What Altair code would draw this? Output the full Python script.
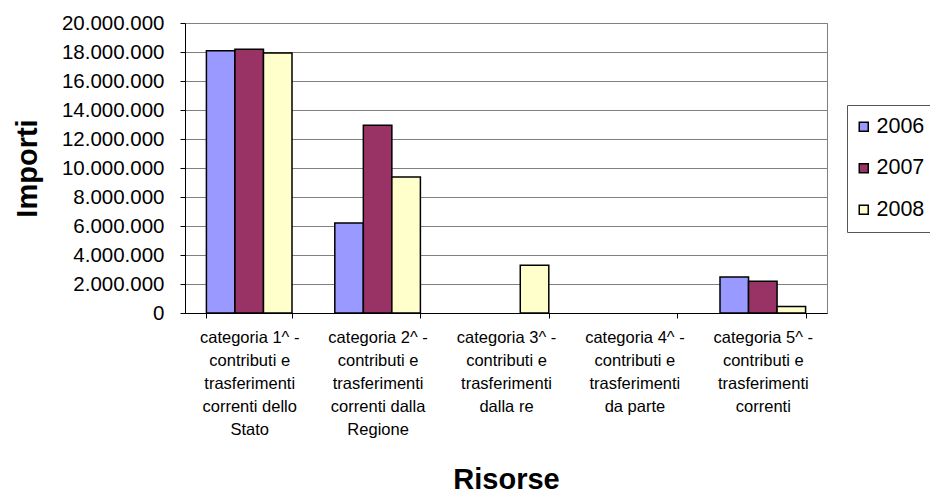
import altair as alt
import pandas as pd

categories = [
    "categoria 1^ -|contributi e|trasferimenti|correnti dello|Stato",
    "categoria 2^ -|contributi e|trasferimenti|correnti dalla|Regione",
    "categoria 3^ -|contributi e|trasferimenti|dalla re",
    "categoria 4^ -|contributi e|trasferimenti|da parte",
    "categoria 5^ -|contributi e|trasferimenti|correnti",
]
years = ["2006", "2007", "2008"]
v2006 = [18080000, 6210000, 0, 0, 2480000]
v2007 = [18190000, 12940000, 0, 0, 2190000]
v2008 = [17930000, 9380000, 3290000, 0, 440000]
colors = ["#9999FF", "#993366", "#FFFFCC"]
y_ticks = [0, 2000000, 4000000, 6000000, 8000000, 10000000,
           12000000, 14000000, 16000000, 18000000, 20000000]

rows = []
for i, c in enumerate(categories):
    for yr, vals in zip(years, [v2006, v2007, v2008]):
        rows.append({"cat": c, "anno": yr, "val": vals[i]})
df = pd.DataFrame(rows)

FONT = "Liberation Sans"

bars = alt.Chart(df).transform_filter("datum.val > 0").mark_bar(
    stroke="black", strokeWidth=1.5
).encode(
    x=alt.X(
        "cat:N",
        scale=alt.Scale(domain=categories, paddingInner=1 / 3, paddingOuter=1 / 6),
        axis=alt.Axis(
            title="Risorse",
            labelExpr="split(datum.label, '|')",
            labelAngle=0,
            labelFont=FONT,
            labelFontSize=16.5,
            labelLineHeight=23,
            labelColor="black",
            labelPadding=11,
            labelBaseline="top",
            tickBand="extent",
            tickSize=5,
            tickColor="black",
            domainColor="black",
            grid=False,
            titleFont=FONT,
            titleFontSize=29,
            titleFontWeight="bold",
            titleColor="black",
            titleBaseline="alphabetic",
            titleY=175,
        ),
    ),
    xOffset=alt.XOffset("anno:N", sort=years,
                        scale=alt.Scale(paddingInner=0, paddingOuter=0)),
    y=alt.Y(
        "val:Q",
        scale=alt.Scale(domain=[0, 20000000], nice=False),
        axis=alt.Axis(
            title="Importi",
            values=y_ticks,
            labelExpr="replace(format(datum.value, ','), regexp(',', 'g'), '.')",
            labelFont=FONT,
            labelFontSize=20.5,
            labelColor="black",
            labelPadding=16,
            tickSize=5,
            tickColor="black",
            domainColor="black",
            grid=True,
            gridColor="#808080",
            gridWidth=1,
            titleFont=FONT,
            titleFontSize=29,
            titleFontWeight="bold",
            titleColor="black",
            titleBaseline="alphabetic",
            titleAngle=-90,
            titleX=-149,
            titleY=145,
        ),
    ),
    color=alt.Color(
        "anno:N",
        scale=alt.Scale(domain=years, range=colors),
        legend=alt.Legend(
            title=None,
            orient="none",
            legendX=662,
            legendY=82,
            direction="vertical",
            symbolType="square",
            symbolSize=81,
            symbolStrokeColor="black",
            symbolStrokeWidth=1.5,
            symbolOpacity=1,
            symbolOffset=-5,
            labelFont=FONT,
            labelFontSize=21.5,
            labelColor="black",
            labelOffset=2,
            rowPadding=18.5,
            padding=11,
            strokeColor="#555555",
            fillColor="white",
        ),
    ),
)

chart = bars.properties(
    width=642,
    height=290,
    autosize=alt.AutoSizeParams(type="none"),
    padding={"left": 177, "top": 15, "right": 103, "bottom": 179},
).configure_view(stroke="#808080", strokeWidth=1)

chart.save("out.html", embed_options={"renderer": "svg", "actions": False})
